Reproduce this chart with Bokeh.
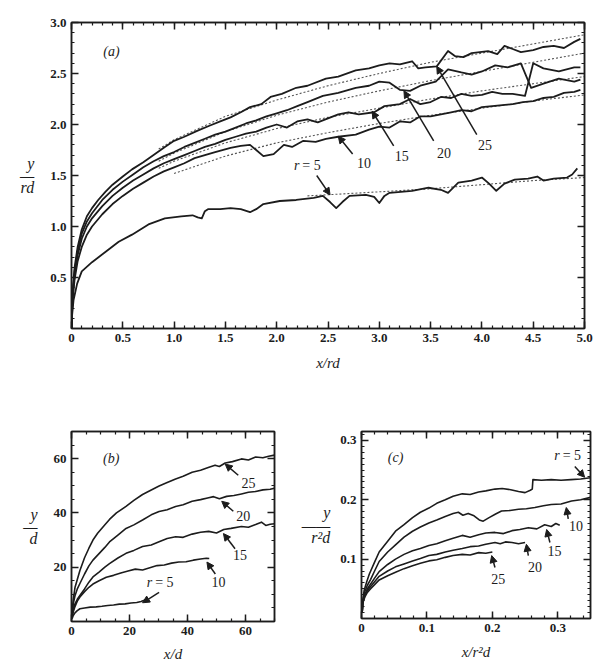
from bokeh.plotting import figure
from bokeh.models import (LinearAxis, FixedTicker, Label, Arrow, NormalHead,
                          CustomJSTickFormatter, ColumnDataSource)
from bokeh.layouts import column, row
from bokeh.embed import file_html
from bokeh.resources import INLINE

# ---------------- data: panel (a)  y/rd vs x/rd ----------------
A25_X = [0.0, 0.01, 0.03, 0.06, 0.10, 0.15, 0.20, 0.26, 0.33, 0.40, 0.50, 0.59, 0.70, 0.80, 0.91, 1.00, 1.10, 1.23, 1.35, 1.45, 1.55, 1.65, 1.74, 1.85, 1.94, 2.05, 2.19, 2.30, 2.48, 2.60, 2.77, 2.90, 3.00, 3.10, 3.20, 3.32, 3.38, 3.45, 3.56, 3.67, 3.74, 3.82, 3.90, 4.06, 4.15, 4.22, 4.30, 4.38, 4.50, 4.60, 4.70, 4.80, 4.90, 4.96]
A25_Y = [0.0, 0.35, 0.60, 0.80, 0.97, 1.10, 1.18, 1.26, 1.34, 1.41, 1.49, 1.56, 1.63, 1.70, 1.78, 1.84, 1.88, 1.94, 1.99, 2.03, 2.07, 2.12, 2.17, 2.20, 2.27, 2.30, 2.36, 2.38, 2.45, 2.47, 2.53, 2.55, 2.58, 2.60, 2.59, 2.62, 2.55, 2.56, 2.57, 2.72, 2.67, 2.66, 2.70, 2.72, 2.69, 2.77, 2.74, 2.71, 2.73, 2.76, 2.77, 2.75, 2.81, 2.84]
A20_X = [0.0, 0.01, 0.03, 0.06, 0.10, 0.15, 0.20, 0.30, 0.40, 0.50, 0.60, 0.70, 0.80, 0.90, 1.00, 1.10, 1.20, 1.30, 1.40, 1.50, 1.60, 1.70, 1.80, 1.90, 2.00, 2.10, 2.20, 2.30, 2.45, 2.60, 2.77, 2.90, 3.00, 3.10, 3.20, 3.30, 3.40, 3.55, 3.67, 3.80, 3.90, 4.00, 4.13, 4.25, 4.38, 4.48, 4.60, 4.75, 4.90, 4.96]
A20_Y = [0.0, 0.32, 0.56, 0.76, 0.93, 1.05, 1.13, 1.26, 1.36, 1.44, 1.51, 1.58, 1.64, 1.69, 1.73, 1.78, 1.82, 1.86, 1.90, 1.93, 1.97, 2.01, 2.04, 2.08, 2.11, 2.14, 2.18, 2.22, 2.28, 2.31, 2.36, 2.38, 2.42, 2.41, 2.34, 2.33, 2.38, 2.42, 2.54, 2.51, 2.49, 2.52, 2.58, 2.56, 2.60, 2.36, 2.40, 2.45, 2.42, 2.44]
A15_X = [0.0, 0.01, 0.03, 0.06, 0.10, 0.15, 0.20, 0.30, 0.40, 0.50, 0.60, 0.70, 0.80, 0.90, 1.00, 1.10, 1.20, 1.30, 1.40, 1.50, 1.60, 1.70, 1.80, 1.90, 2.00, 2.10, 2.20, 2.30, 2.40, 2.50, 2.60, 2.70, 2.80, 2.95, 3.05, 3.20, 3.30, 3.40, 3.50, 3.60, 3.70, 3.80, 3.90, 4.00, 4.10, 4.20, 4.30, 4.42, 4.50, 4.60, 4.75, 4.90, 4.96]
A15_Y = [0.0, 0.30, 0.52, 0.72, 0.88, 1.00, 1.08, 1.20, 1.30, 1.38, 1.45, 1.51, 1.57, 1.62, 1.66, 1.70, 1.74, 1.78, 1.81, 1.85, 1.88, 1.91, 1.93, 1.97, 2.00, 1.97, 2.03, 2.05, 2.02, 2.06, 2.10, 2.12, 2.10, 2.12, 2.18, 2.20, 2.25, 2.20, 2.22, 2.27, 2.26, 2.30, 2.28, 2.29, 2.32, 2.30, 2.30, 2.28, 2.60, 2.55, 2.52, 2.56, 2.56]
A10_X = [0.0, 0.01, 0.03, 0.06, 0.10, 0.15, 0.20, 0.30, 0.40, 0.50, 0.60, 0.70, 0.80, 0.90, 1.00, 1.10, 1.20, 1.30, 1.40, 1.55, 1.65, 1.74, 1.80, 1.87, 1.97, 2.07, 2.15, 2.26, 2.38, 2.48, 2.60, 2.77, 2.90, 3.00, 3.10, 3.20, 3.30, 3.40, 3.50, 3.60, 3.70, 3.80, 3.90, 4.00, 4.10, 4.20, 4.30, 4.40, 4.50, 4.60, 4.70, 4.80, 4.90, 4.96]
A10_Y = [0.0, 0.28, 0.48, 0.66, 0.80, 0.92, 1.00, 1.12, 1.22, 1.30, 1.37, 1.43, 1.49, 1.54, 1.58, 1.62, 1.67, 1.70, 1.73, 1.77, 1.79, 1.80, 1.75, 1.69, 1.71, 1.80, 1.78, 1.84, 1.83, 1.86, 1.88, 1.90, 1.95, 1.98, 1.97, 2.03, 2.02, 2.08, 2.08, 2.10, 2.12, 2.14, 2.13, 2.17, 2.18, 2.19, 2.20, 2.22, 2.23, 2.26, 2.27, 2.31, 2.32, 2.34]
A5_X = [0.0, 0.005, 0.02, 0.055, 0.10, 0.20, 0.33, 0.46, 0.59, 0.75, 0.91, 1.07, 1.18, 1.23, 1.27, 1.30, 1.33, 1.45, 1.55, 1.65, 1.74, 1.80, 1.87, 2.03, 2.19, 2.36, 2.45, 2.52, 2.58, 2.64, 2.71, 2.87, 2.95, 3.00, 3.05, 3.10, 3.32, 3.48, 3.60, 3.67, 3.77, 3.90, 4.00, 4.07, 4.14, 4.22, 4.32, 4.45, 4.54, 4.60, 4.70, 4.83, 4.88, 4.93]
A5_Y = [0.0, 0.12, 0.28, 0.44, 0.56, 0.65, 0.75, 0.85, 0.92, 1.02, 1.08, 1.10, 1.11, 1.09, 1.08, 1.15, 1.17, 1.17, 1.18, 1.17, 1.14, 1.17, 1.22, 1.25, 1.26, 1.28, 1.30, 1.24, 1.18, 1.24, 1.30, 1.31, 1.29, 1.23, 1.30, 1.33, 1.35, 1.38, 1.36, 1.33, 1.43, 1.45, 1.48, 1.42, 1.35, 1.42, 1.46, 1.47, 1.49, 1.45, 1.47, 1.48, 1.51, 1.57]
# dotted fitted curves in (a)
FIT_X = [0.85, 1.0, 1.5, 2.0, 2.5, 3.0, 3.5, 4.0, 4.5, 5.0]
FIT25_Y = [1.76, 1.85, 2.08, 2.24, 2.38, 2.50, 2.61, 2.70, 2.79, 2.88]
FIT20_Y = [1.64, 1.72, 1.93, 2.09, 2.22, 2.33, 2.43, 2.52, 2.61, 2.70]
FIT15_Y = [1.57, 1.64, 1.82, 1.96, 2.07, 2.16, 2.25, 2.33, 2.40, 2.47]
FIT10_X = [1.0, 1.5, 2.0, 2.5, 3.0, 3.5, 4.0, 4.5, 5.0]
FIT10_Y = [1.52, 1.69, 1.82, 1.92, 2.01, 2.09, 2.16, 2.23, 2.29]
FIT5_X = [2.3, 3.0, 3.5, 4.0, 4.5, 5.0]
FIT5_Y = [1.30, 1.34, 1.37, 1.41, 1.45, 1.48]

# ---------------- data: panel (b)  y/d vs x/d ----------------
B25_X = [0.2, 0.6, 1.2, 2.0, 2.9, 4.5, 6.0, 7.4, 9.0, 11.0, 13.1, 15.5, 18.8, 21.5, 24.5, 27.0, 30.2, 33.0, 35.9, 38.5, 41.6, 44.5, 47.4, 49.5, 51.0, 53.0, 55.5, 58.6, 61.0, 63.5, 66.0, 68.0, 70.0]
B25_Y = [3.0, 8.0, 12.5, 15.5, 18.8, 23.5, 27.0, 30.0, 32.5, 35.0, 37.6, 40.0, 42.4, 44.6, 46.8, 48.2, 49.9, 51.2, 52.5, 53.5, 55.0, 55.7, 56.8, 57.6, 57.1, 58.4, 58.9, 59.9, 59.5, 60.6, 60.3, 60.9, 61.3]
B20_X = [0.2, 0.6, 1.2, 2.0, 2.9, 4.5, 6.0, 7.4, 9.5, 11.5, 13.1, 16.0, 18.8, 21.5, 24.5, 27.5, 30.2, 33.0, 35.9, 38.5, 41.6, 44.5, 47.3, 49.0, 51.0, 53.5, 56.0, 58.6, 61.0, 63.5, 66.0, 68.5, 70.0]
B20_Y = [2.5, 6.5, 9.5, 12.0, 14.0, 17.5, 20.5, 22.6, 25.0, 27.3, 29.3, 31.8, 34.3, 35.6, 37.4, 39.3, 40.5, 41.2, 42.4, 43.0, 44.3, 44.9, 45.6, 46.0, 45.2, 46.1, 46.4, 47.0, 47.6, 47.9, 48.5, 48.7, 49.1]
B15_X = [0.2, 0.6, 1.2, 2.0, 2.9, 4.5, 6.0, 7.4, 9.5, 11.5, 13.1, 16.0, 18.8, 21.5, 24.5, 27.5, 30.2, 33.0, 35.9, 38.5, 41.6, 44.5, 47.3, 50.0, 52.5, 55.0, 58.6, 61.0, 63.5, 65.5, 67.0, 68.5, 70.0]
B15_Y = [2.0, 4.5, 6.5, 8.2, 9.6, 12.0, 14.5, 16.4, 18.2, 20.0, 21.3, 23.4, 25.1, 26.2, 27.6, 28.2, 29.4, 30.6, 31.2, 31.0, 32.2, 32.9, 33.2, 32.6, 33.9, 34.3, 35.0, 34.7, 35.7, 36.6, 35.4, 35.8, 36.0]
B10_X = [0.2, 0.6, 1.2, 2.0, 2.9, 4.5, 6.0, 7.4, 9.5, 12.0, 14.5, 17.0, 19.5, 22.0, 24.5, 27.0, 29.5, 32.0, 34.5, 37.0, 39.5, 42.0, 44.5, 46.5, 47.5]
B10_Y = [1.5, 3.5, 5.5, 7.5, 9.0, 11.0, 12.6, 13.8, 15.0, 16.3, 17.0, 17.9, 18.6, 19.3, 19.0, 19.8, 20.6, 20.8, 21.5, 21.9, 22.0, 22.6, 23.0, 23.3, 23.2]
B5_X = [0.2, 0.6, 1.2, 2.0, 2.9, 4.5, 6.5, 8.5, 10.5, 12.5, 14.5, 16.5, 18.5, 20.5, 22.5, 24.0, 25.5]
B5_Y = [1.0, 2.2, 3.2, 4.0, 4.7, 5.0, 5.3, 5.4, 5.6, 5.9, 6.1, 6.4, 6.5, 6.8, 7.0, 7.4, 8.0]

# ---------------- data: panel (c)  y/r^2d vs x/r^2d ----------------
C5_X = [0.001, 0.002, 0.004, 0.008, 0.012, 0.02, 0.027, 0.04, 0.052, 0.065, 0.078, 0.09, 0.103, 0.115, 0.128, 0.14, 0.154, 0.166, 0.179, 0.19, 0.204, 0.215, 0.228, 0.24, 0.25, 0.258, 0.261, 0.262, 0.275, 0.29, 0.305, 0.32, 0.335, 0.35]
C5_Y = [0.010, 0.030, 0.047, 0.062, 0.075, 0.095, 0.112, 0.130, 0.147, 0.158, 0.170, 0.179, 0.186, 0.194, 0.200, 0.206, 0.210, 0.209, 0.213, 0.215, 0.218, 0.219, 0.217, 0.214, 0.212, 0.216, 0.218, 0.234, 0.233, 0.234, 0.233, 0.234, 0.235, 0.237]
C10_X = [0.001, 0.002, 0.005, 0.009, 0.014, 0.02, 0.027, 0.04, 0.052, 0.065, 0.078, 0.09, 0.103, 0.115, 0.128, 0.14, 0.148, 0.155, 0.163, 0.172, 0.18, 0.186, 0.195, 0.205, 0.214, 0.227, 0.24, 0.252, 0.265, 0.278, 0.29, 0.305, 0.321, 0.335, 0.35]
C10_Y = [0.010, 0.030, 0.045, 0.056, 0.066, 0.080, 0.096, 0.112, 0.124, 0.137, 0.147, 0.154, 0.161, 0.166, 0.172, 0.177, 0.179, 0.174, 0.177, 0.173, 0.166, 0.164, 0.170, 0.176, 0.181, 0.182, 0.184, 0.185, 0.187, 0.190, 0.192, 0.193, 0.198, 0.200, 0.204]
C15_X = [0.001, 0.002, 0.005, 0.009, 0.014, 0.02, 0.027, 0.04, 0.052, 0.065, 0.078, 0.09, 0.103, 0.115, 0.128, 0.14, 0.154, 0.166, 0.179, 0.19, 0.204, 0.217, 0.23, 0.242, 0.255, 0.268, 0.28, 0.29, 0.297, 0.303]
C15_Y = [0.010, 0.028, 0.040, 0.050, 0.058, 0.068, 0.079, 0.091, 0.100, 0.108, 0.114, 0.118, 0.123, 0.126, 0.131, 0.135, 0.140, 0.137, 0.141, 0.144, 0.145, 0.143, 0.148, 0.150, 0.153, 0.151, 0.158, 0.155, 0.160, 0.157]
C20_X = [0.001, 0.002, 0.005, 0.009, 0.014, 0.02, 0.027, 0.04, 0.052, 0.065, 0.078, 0.09, 0.103, 0.115, 0.128, 0.14, 0.154, 0.166, 0.179, 0.19, 0.204, 0.212, 0.22, 0.23, 0.24, 0.25]
C20_Y = [0.010, 0.027, 0.038, 0.047, 0.054, 0.062, 0.071, 0.080, 0.087, 0.092, 0.097, 0.101, 0.106, 0.108, 0.112, 0.115, 0.118, 0.121, 0.122, 0.125, 0.128, 0.126, 0.129, 0.128, 0.126, 0.128]
C25_X = [0.001, 0.002, 0.005, 0.009, 0.014, 0.02, 0.027, 0.04, 0.052, 0.065, 0.078, 0.09, 0.103, 0.115, 0.128, 0.14, 0.154, 0.166, 0.179, 0.19, 0.2]
C25_Y = [0.010, 0.026, 0.036, 0.044, 0.050, 0.057, 0.065, 0.072, 0.078, 0.084, 0.089, 0.093, 0.097, 0.099, 0.103, 0.106, 0.108, 0.107, 0.111, 0.110, 0.112]

# tick values
A_XTICKS = [0, 0.5, 1.0, 1.5, 2.0, 2.5, 3.0, 3.5, 4.0, 4.5, 5.0]
A_YTICKS = [0.5, 1.0, 1.5, 2.0, 2.5, 3.0]
B_XTICKS = [0, 20, 40, 60]
B_YTICKS = [20, 40, 60]
C_XTICKS = [0, 0.1, 0.2, 0.3]
C_YTICKS = [0.1, 0.2, 0.3]

INK = "#1c1c1c"
SERIF = "Liberation Serif"


def make_fig(xr, yr, fw, fh, bl, br, bt, bb):
    p = figure(x_range=xr, y_range=yr, frame_width=fw, frame_height=fh,
               min_border_left=bl, min_border_right=br, min_border_top=bt,
               min_border_bottom=bb, x_axis_type=None, y_axis_type=None,
               output_backend="svg", toolbar_location=None)
    p.grid.visible = False
    p.outline_line_color = INK
    p.outline_line_width = 1.5
    p.background_fill_color = "white"
    p.border_fill_color = "white"
    return p


BLANK = "return '';"


def add_axes(p, xt, xm, yt, ym, xlab, ylab, xstand, ystand,
             xfmt=None, yfmt=None):
    specs = [("below", xt, xm, xfmt, True, xlab, xstand),
             ("left", yt, ym, yfmt, True, ylab, ystand),
             ("above", xt, xm, None, False, None, 0),
             ("right", yt, ym, None, False, None, 0)]
    for loc, ticks, minor, fmt, show, lab, stand in specs:
        ax = LinearAxis(ticker=FixedTicker(ticks=ticks, minor_ticks=minor))
        ax.axis_line_color = INK
        ax.axis_line_width = 1.5
        ax.major_tick_line_color = INK
        ax.major_tick_line_width = 1.5
        ax.minor_tick_line_color = INK
        ax.minor_tick_line_width = 1.2
        ax.major_tick_in = 7
        ax.major_tick_out = 0
        ax.minor_tick_in = 3
        ax.minor_tick_out = 0
        if show:
            if fmt is not None:
                ax.formatter = fmt
            ax.major_label_text_font = SERIF
            ax.major_label_text_font_style = "bold"
            ax.major_label_text_font_size = "13px"
            ax.major_label_text_color = INK
            ax.major_label_standoff = 5
            ax.axis_label = lab
            ax.axis_label_text_font = SERIF
            ax.axis_label_text_font_style = "italic"
            ax.axis_label_text_color = INK
            ax.axis_label_standoff = stand
            if loc == "left":
                ax.axis_label_orientation = "horizontal"
                ax.axis_label_text_font_size = "16px"
                ax.axis_label_text_line_height = 0.72
            else:
                ax.axis_label_text_font_size = "15px"
        else:
            ax.formatter = CustomJSTickFormatter(code=BLANK)
            ax.major_label_text_font_size = "1px"
            ax.major_label_standoff = 0
        p.add_layout(ax, loc)


def txt(p, x, y, s, size="14px", style="normal", align="center", base="middle", xo=0):
    p.add_layout(Label(x=x, y=y, text=s, text_font=SERIF, text_font_size=size,
                       text_font_style=style, text_color=INK, text_align=align,
                       text_baseline=base, x_offset=xo))


def arrow(p, x0, y0, x1, y1):
    p.add_layout(Arrow(end=NormalHead(size=7, fill_color=INK, line_color=INK, line_width=1),
                       x_start=x0, y_start=y0, x_end=x1, y_end=y1,
                       line_color=INK, line_width=1.5))


def curve(p, xs, ys, width=1.8):
    src = ColumnDataSource(dict(x=xs, y=ys))
    p.line("x", "y", source=src, line_color=INK, line_width=width, line_join="round")


def dotted(p, xs, ys):
    src = ColumnDataSource(dict(x=xs, y=ys))
    p.line("x", "y", source=src, line_color="#555555", line_width=1.1, line_dash="2 2")


# ---------------- panel (a) ----------------
pa = make_fig((0, 5), (0, 3), 513, 306, 71, 14, 22, 60)
fmt_ax = CustomJSTickFormatter(code="return tick == 0 ? '0' : tick.toFixed(1);")
fmt_ay = CustomJSTickFormatter(code="return tick.toFixed(1);")
add_axes(pa, A_XTICKS, [round(0.1 * i, 2) for i in range(51)],
         A_YTICKS, [round(0.1 * i, 2) for i in range(31)],
         "x/rd", "y\n\u2014\nrd", 10, 13, fmt_ax, fmt_ay)
for fx, fy in [(FIT_X, FIT25_Y), (FIT_X, FIT20_Y), (FIT_X, FIT15_Y),
               (FIT10_X, FIT10_Y), (FIT5_X, FIT5_Y)]:
    dotted(pa, fx, fy)
for cx, cy in [(A25_X, A25_Y), (A20_X, A20_Y), (A15_X, A15_Y),
               (A10_X, A10_Y), (A5_X, A5_Y)]:
    curve(pa, cx, cy)
txt(pa, 0.39, 2.72, "(a)", size="14px", style="italic")
txt(pa, 2.24, 1.60, "r", style="italic", align="right", xo=-2)
txt(pa, 2.24, 1.60, "= 5", align="left", xo=1)
arrow(pa, 2.39, 1.50, 2.52, 1.31)
for lx, ly, s, x0, y0, x1, y1 in [(2.85, 1.62, "10", 2.74, 1.71, 2.60, 1.885),
                                  (3.22, 1.69, "15", 3.14, 1.79, 2.93, 2.13),
                                  (3.63, 1.72, "20", 3.53, 1.84, 3.24, 2.33),
                                  (4.03, 1.80, "25", 3.95, 1.90, 3.56, 2.57)]:
    txt(pa, lx, ly, s)
    arrow(pa, x0, y0, x1, y1)

# ---------------- panel (b) ----------------
pb = make_fig((0, 70), (0, 70), 203, 190, 71, 24, 41, 44)
add_axes(pb, B_XTICKS, list(range(0, 71, 5)), B_YTICKS, list(range(0, 71, 5)),
         "x/d", "y\n\u2014\nd", 8, 13)
for cx, cy in [(B25_X, B25_Y), (B20_X, B20_Y), (B15_X, B15_Y),
               (B10_X, B10_Y), (B5_X, B5_Y)]:
    curve(pb, cx, cy, 1.6)
txt(pb, 13.7, 60.0, "(b)", size="14px", style="italic")
txt(pb, 28.5, 14.4, "r", style="italic", align="right", xo=-2)
txt(pb, 28.5, 14.4, "= 5", align="left", xo=1)
arrow(pb, 30.2, 10.7, 24.5, 6.9)
for lx, ly, s, x0, y0, x1, y1 in [(50.7, 14.4, "10", 49.6, 17.5, 46.7, 21.9),
                                  (58.1, 24.4, "15", 56.4, 26.8, 52.4, 32.4),
                                  (59.2, 38.7, "20", 55.8, 40.6, 51.8, 44.3),
                                  (61.0, 51.0, "25", 57.5, 53.9, 53.0, 58.0)]:
    txt(pb, lx, ly, s)
    arrow(pb, x0, y0, x1, y1)

# ---------------- panel (c) ----------------
pc = make_fig((0, 0.35), (0, 0.315), 229, 187, 57, 14, 43, 45)
add_axes(pc, C_XTICKS, [round(0.02 * i, 2) for i in range(18)],
         C_YTICKS, [round(0.01 * i, 2) for i in range(32)],
         "x/r\u00b2d", "y\n\u2014\u2014\nr\u00b2d", 9, 7)
for cx, cy in [(C5_X, C5_Y), (C10_X, C10_Y), (C15_X, C15_Y),
               (C20_X, C20_Y), (C25_X, C25_Y)]:
    curve(pc, cx, cy, 1.6)
txt(pc, 0.052, 0.271, "(c)", size="14px", style="italic")
txt(pc, 0.306, 0.274, "r", style="italic", align="right", xo=-2)
txt(pc, 0.306, 0.274, "= 5", align="left", xo=1)
arrow(pc, 0.326, 0.256, 0.341, 0.238)
for lx, ly, s, x0, y0, x1, y1 in [(0.328, 0.156, "10", 0.316, 0.168, 0.313, 0.187),
                                  (0.295, 0.114, "15", 0.288, 0.128, 0.283, 0.150),
                                  (0.265, 0.086, "20", 0.255, 0.106, 0.252, 0.125),
                                  (0.209, 0.066, "25", 0.204, 0.086, 0.199, 0.106)]:
    txt(pc, lx, ly, s)
    arrow(pc, x0, y0, x1, y1)

layout = column(pa, row(pb, pc))
open("out.html", "w").write(file_html(layout, INLINE))
